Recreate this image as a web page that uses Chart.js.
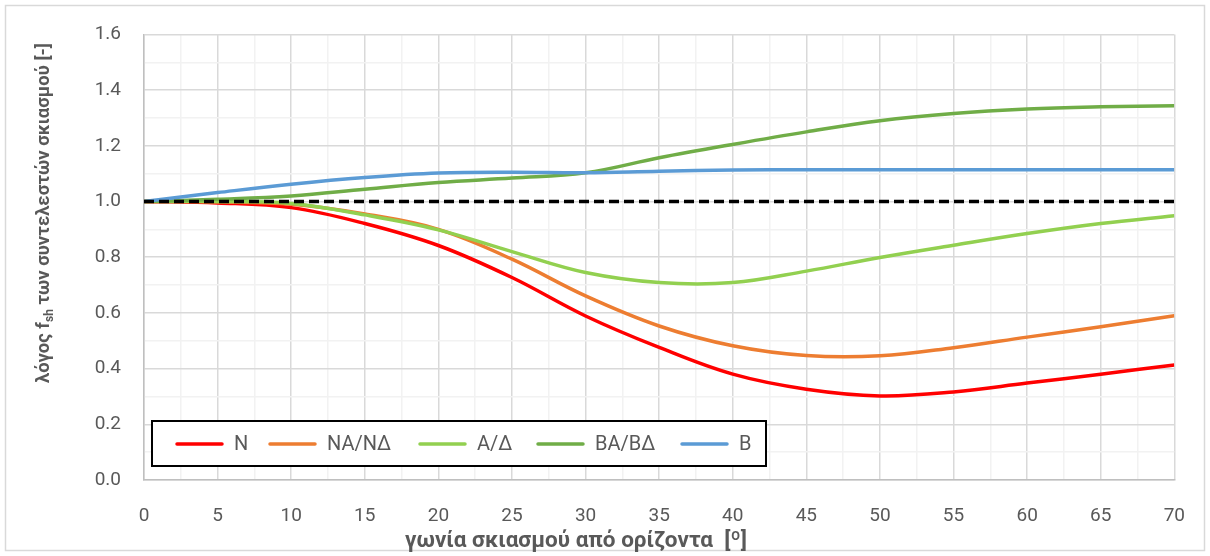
<!DOCTYPE html>
<html>
<head>
<meta charset="utf-8">
<script src="https://cdn.jsdelivr.net/npm/chart.js@4.4.1/dist/chart.umd.min.js"></script>
<style>
  html, body { margin: 0; padding: 0; background: #ffffff; }
  #wrap { width: 1210px; height: 556px; position: relative; }
</style>
</head>
<body>
<div id="wrap"><canvas id="shadeChart" width="1210" height="556"></canvas></div>
<script>
// γωνία σκιασμού (x) και λόγοι f_sh ανά προσανατολισμό
var angles = [0, 5, 10, 15, 20, 25, 30, 35, 40, 45, 50, 55, 60, 65, 70];
var valN  = [1.0, 0.995, 0.978, 0.921, 0.842, 0.727, 0.589, 0.476, 0.380, 0.326, 0.302, 0.316, 0.348, 0.380, 0.413];
var valNA = [1.0, 0.998, 0.990, 0.955, 0.900, 0.793, 0.661, 0.553, 0.482, 0.447, 0.446, 0.475, 0.513, 0.550, 0.590];
var valA  = [1.0, 1.000, 0.993, 0.952, 0.898, 0.820, 0.745, 0.709, 0.709, 0.750, 0.799, 0.843, 0.885, 0.921, 0.949];
var valBA = [1.0, 1.008, 1.020, 1.044, 1.068, 1.084, 1.103, 1.157, 1.205, 1.250, 1.290, 1.316, 1.332, 1.340, 1.344];
var valB  = [1.0, 1.032, 1.062, 1.086, 1.102, 1.105, 1.103, 1.109, 1.113, 1.114, 1.114, 1.114, 1.114, 1.114, 1.114];
var refX = [0, 70];
var refY = [1.0, 1.0];

var seriesLabels = ['N', 'NA/NΔ', 'A/Δ', 'BA/BΔ', 'B'];
var seriesValues = [valN, valNA, valA, valBA, valB];
var seriesColors = ['#ff0000', '#ed7d31', '#92d050', '#70ad47', '#5b9bd5'];

var textColor = '#595959';
var fontFam = 'Roboto, "Liberation Sans", sans-serif';

function toPoints(xs, ys) {
  return xs.map(function (x, i) { return { x: x, y: ys[i] }; });
}

var datasets = seriesLabels.map(function (lab, i) {
  return {
    label: lab,
    data: toPoints(angles, seriesValues[i]),
    borderColor: seriesColors[i],
    backgroundColor: seriesColors[i],
    borderWidth: 3.5,
    pointRadius: 0,
    tension: 0.38,
    fill: false,
    order: 10 - i
  };
});
datasets.push({
  label: 'ref',
  data: toPoints(refX, refY),
  borderColor: '#000000',
  borderWidth: 3.5,
  borderDash: [10, 5],
  pointRadius: 0,
  tension: 0,
  fill: false,
  order: 1
});

// πλαίσιο, τίτλοι αξόνων, υπόμνημα μέσα στο γράφημα
var extrasPlugin = {
  id: 'extras',
  beforeDraw: function (chart) {
    var c = chart.ctx;
    c.save();
    c.fillStyle = '#ffffff';
    c.fillRect(0, 0, chart.width, chart.height);
    c.strokeStyle = '#d9d9d9';
    c.lineWidth = 1.5;
    c.strokeRect(5.5, 5.5, chart.width - 11, chart.height - 11);
    c.restore();
  },
  afterDraw: function (chart) {
    var c = chart.ctx;

    // τίτλος y (με δείκτη sh)
    var partA = 'λόγος f';
    var partSub = 'sh';
    var partB = ' των συντελεστών σκιασμού [-]';
    var big = 'bold 18.5px ' + fontFam;
    var small = 'bold 12px ' + fontFam;
    c.save();
    c.font = big;
    var wA = c.measureText(partA).width;
    var wB = c.measureText(partB).width;
    c.font = small;
    var wS = c.measureText(partSub).width;
    var total = wA + wS + wB;
    c.translate(44, 213);
    c.rotate(-Math.PI / 2);
    c.fillStyle = textColor;
    c.textBaseline = 'middle';
    c.textAlign = 'left';
    var x0 = -total / 2;
    c.font = big;
    c.fillText(partA, x0, 0);
    c.font = small;
    c.fillText(partSub, x0 + wA, 6);
    c.font = big;
    c.fillText(partB, x0 + wA + wS, 0);
    c.restore();

    // τίτλος x
    c.save();
    c.font = 'bold 22.5px ' + fontFam;
    c.fillStyle = textColor;
    c.textAlign = 'center';
    c.textBaseline = 'middle';
    c.fillText('γωνία σκιασμού από ορίζοντα  [º]', 576, 541);
    c.restore();

    // υπόμνημα
    c.save();
    c.fillStyle = '#ffffff';
    c.fillRect(152, 421, 614, 45);
    c.strokeStyle = '#000000';
    c.lineWidth = 2;
    c.strokeRect(152, 421, 614, 45);
    var starts = [177, 270, 420, 538, 682];
    c.font = '20px ' + fontFam;
    c.textBaseline = 'middle';
    c.textAlign = 'left';
    for (var i = 0; i < seriesLabels.length; i++) {
      c.strokeStyle = seriesColors[i];
      c.lineWidth = 3.5;
      c.lineCap = 'round';
      c.beginPath();
      c.moveTo(starts[i], 444);
      c.lineTo(starts[i] + 45, 444);
      c.stroke();
      c.fillStyle = textColor;
      c.fillText(seriesLabels[i], starts[i] + 57, 445);
    }
    c.restore();
  }
};

var ctx = document.getElementById('shadeChart').getContext('2d');

new Chart(ctx, {
  type: 'line',
  data: { datasets: datasets },
  options: {
    responsive: false,
    animation: false,
    layout: { padding: { top: 34, right: 24, left: 0, bottom: 0 } },
    plugins: {
      legend: { display: false },
      tooltip: { enabled: false }
    },
    scales: {
      x: {
        type: 'linear',
        min: 0,
        max: 70,
        afterFit: function (scale) { scale.height = 76; },
        afterBuildTicks: function (scale) {
          var t = [];
          for (var v = 0; v <= 70; v += 2.5) t.push({ value: v });
          scale.ticks = t;
        },
        ticks: {
          color: textColor,
          font: { size: 19, family: fontFam },
          padding: 25,
          maxRotation: 0,
          autoSkip: false,
          callback: function (v) { return (v % 5 === 0) ? String(v) : ''; }
        },
        grid: {
          color: function (c) { return (c.tick && c.tick.value % 5 === 0) ? '#d9d9d9' : '#f2f2f2'; },
          lineWidth: 1.5,
          drawTicks: false
        },
        border: { color: '#bfbfbf', width: 1.5 },
        title: { display: false }
      },
      y: {
        min: 0,
        max: 1.6,
        afterFit: function (scale) { scale.width = 144; },
        afterBuildTicks: function (scale) {
          var t = [];
          for (var k = 0; k <= 16; k++) t.push({ value: k / 10 });
          scale.ticks = t;
        },
        ticks: {
          color: textColor,
          font: { size: 19, family: fontFam },
          padding: 23,
          autoSkip: false,
          callback: function (v) {
            var k = Math.round(v * 10);
            return (k % 2 === 0) ? (k / 10).toFixed(1) : '';
          }
        },
        grid: {
          color: function (c) {
            if (!c.tick) return '#d9d9d9';
            return (Math.round(c.tick.value * 10) % 2 === 0) ? '#d9d9d9' : '#f2f2f2';
          },
          lineWidth: 1.5,
          drawTicks: false
        },
        border: { color: '#bfbfbf', width: 1.5 }
      }
    }
  },
  plugins: [extrasPlugin]
});
</script>
</body>
</html>
